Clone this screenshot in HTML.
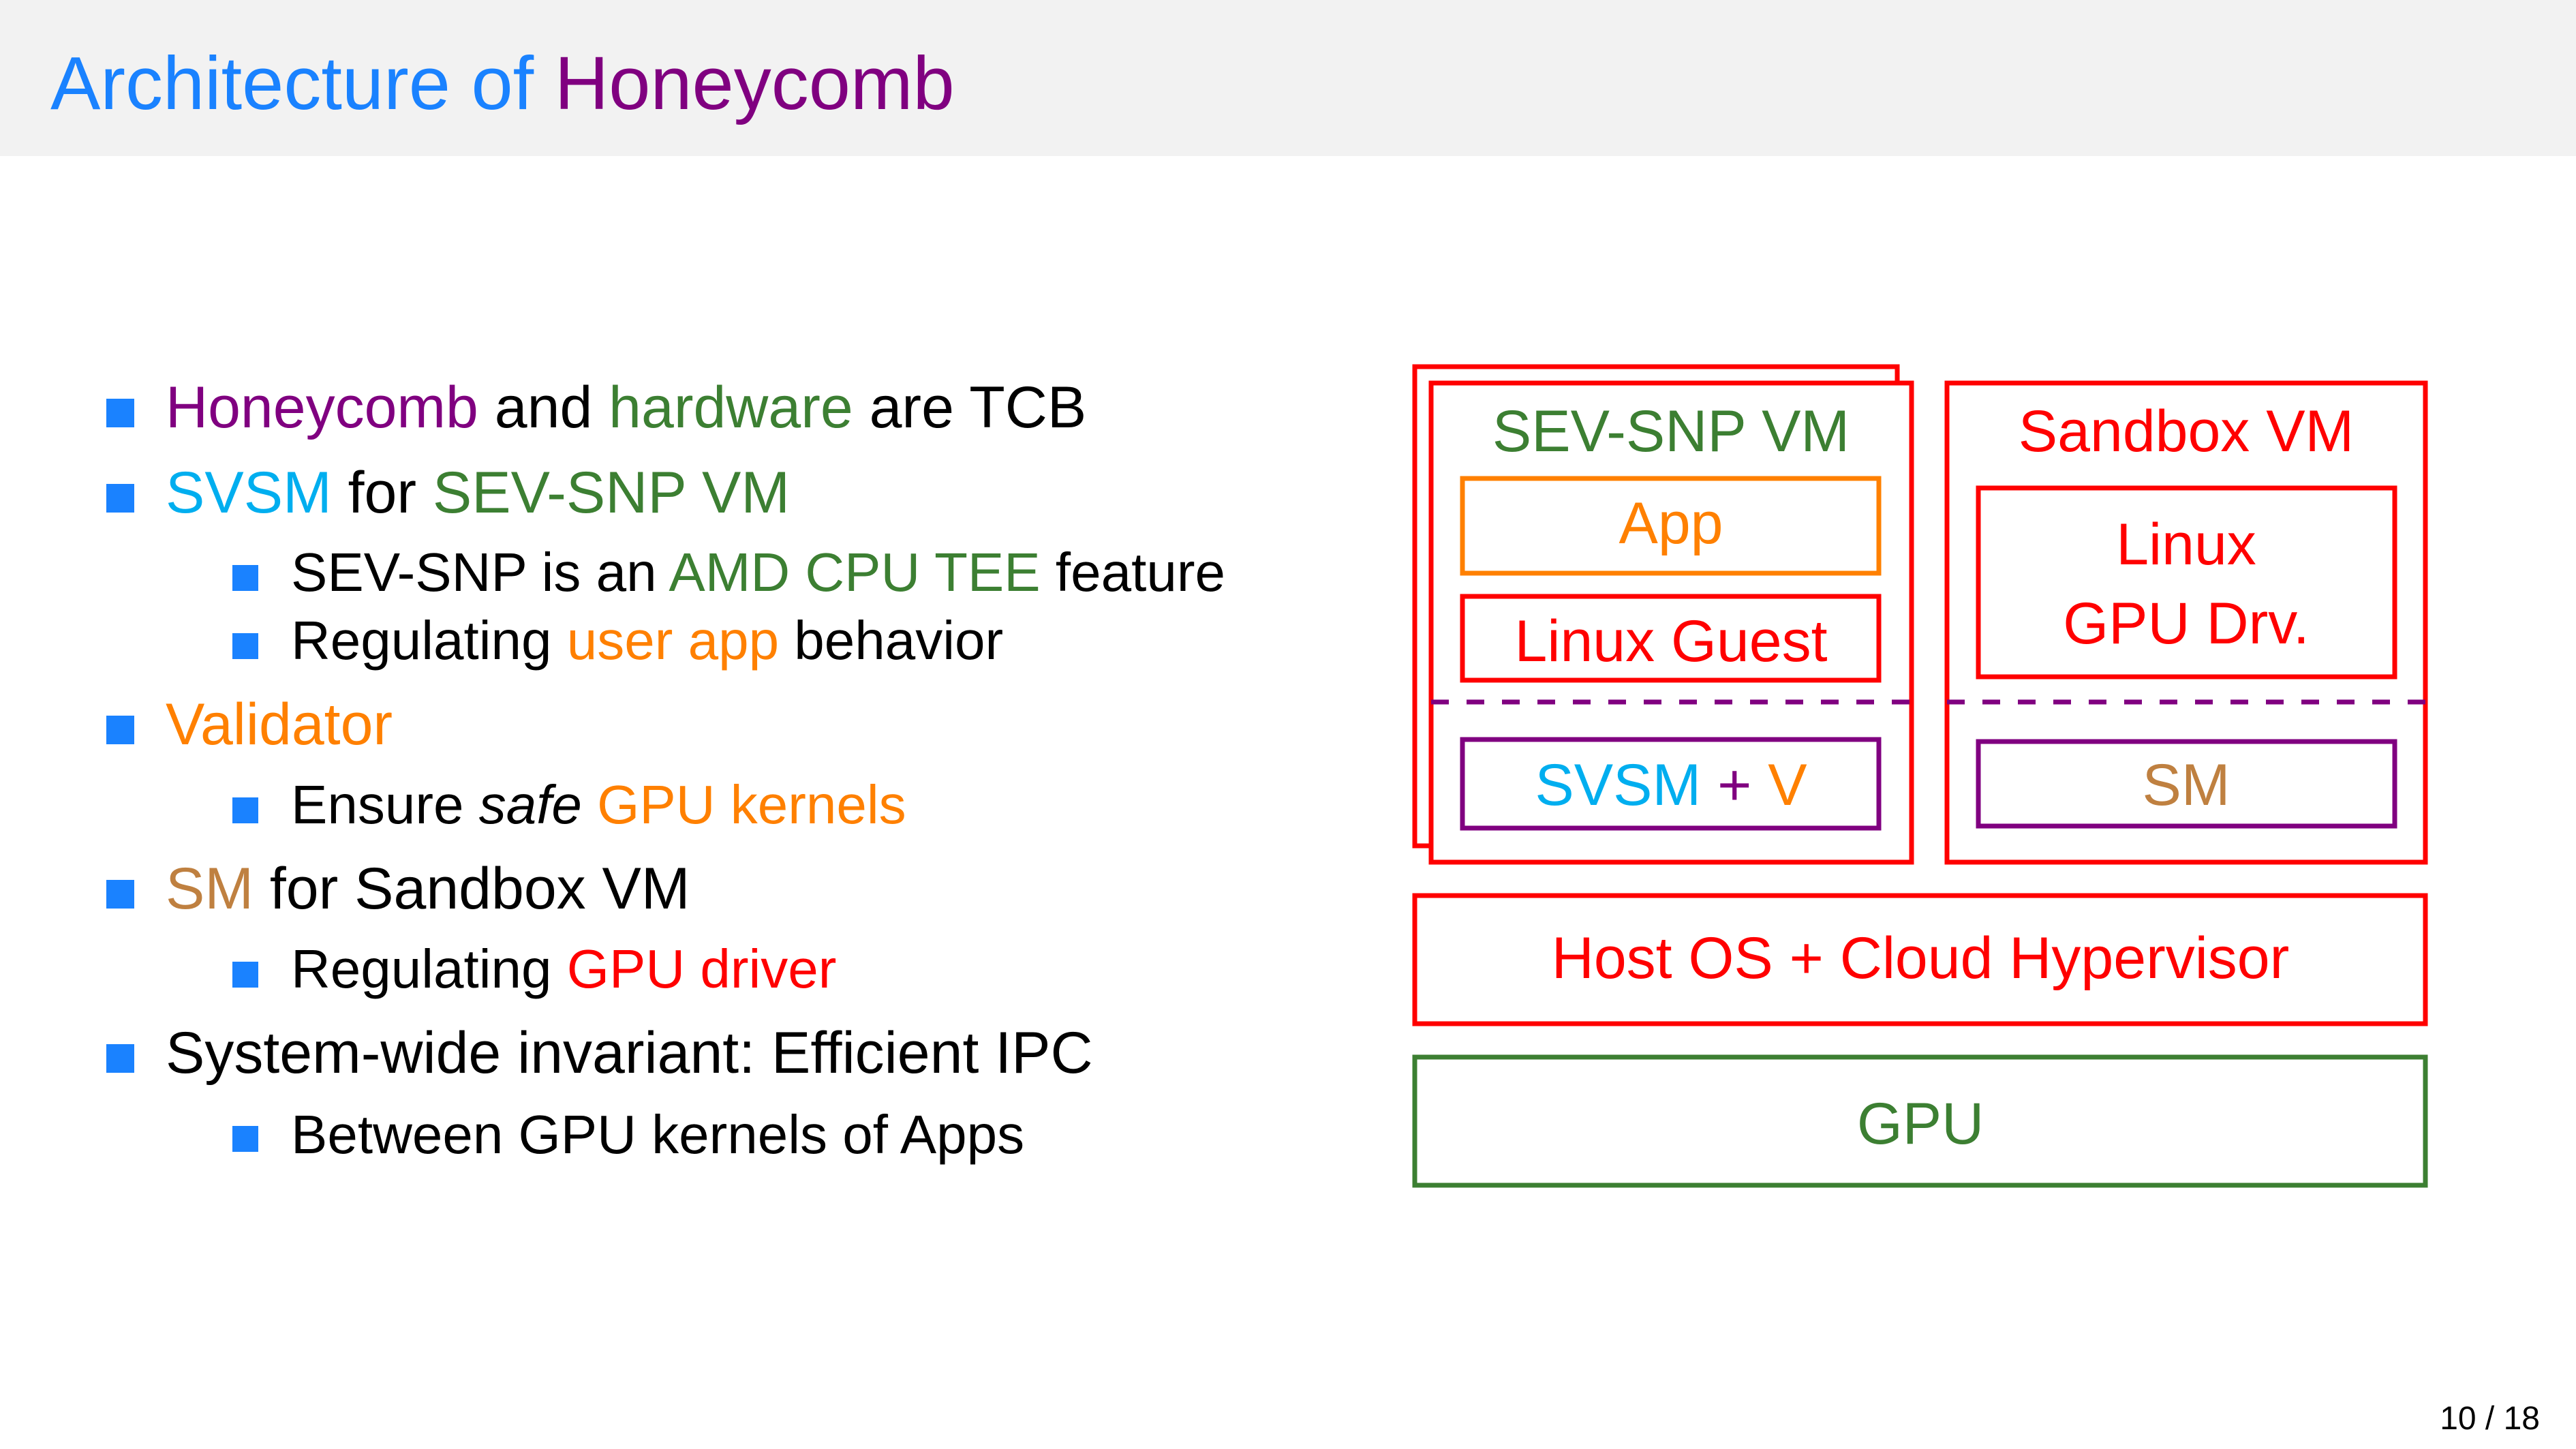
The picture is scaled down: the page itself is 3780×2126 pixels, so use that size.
<!DOCTYPE html>
<html><head><meta charset="utf-8"><style>
html,body{margin:0;padding:0;background:#fff;}
svg{display:block;}
text{font-family:"Liberation Sans",sans-serif;}
</style></head><body>
<svg width="3780" height="2126" viewBox="0 0 3780 2126" xmlns="http://www.w3.org/2000/svg">
<rect x="0" y="0" width="3780" height="2126" fill="#fff"/>
<rect x="0" y="0" width="3780" height="229" fill="#f2f2f2"/>
<text x="74" y="160" font-size="110" fill="#1a82ff">Architecture of <tspan fill="#800080">Honeycomb</tspan></text>

<g fill="#1a82ff">
<rect x="156" y="585" width="41" height="42"/>
<rect x="156" y="710" width="41" height="42"/>
<rect x="341" y="829" width="38" height="38"/>
<rect x="341" y="929" width="38" height="38"/>
<rect x="156" y="1050" width="41" height="42"/>
<rect x="341" y="1170" width="38" height="38"/>
<rect x="156" y="1291" width="41" height="42"/>
<rect x="341" y="1411" width="38" height="38"/>
<rect x="156" y="1532" width="41" height="42"/>
<rect x="341" y="1652" width="38" height="38"/>
</g>
<g font-size="86" fill="#000">
<text x="243" y="627"><tspan fill="#800080">Honeycomb</tspan> and <tspan fill="#3c7f32">hardware</tspan> are TCB</text>
<text x="243" y="752"><tspan fill="#00aeef">SVSM</tspan> for <tspan fill="#3c7f32">SEV-SNP VM</tspan></text>
<text x="243" y="1092"><tspan fill="#ff8000">Validator</tspan></text>
<text x="243" y="1333"><tspan fill="#bf8040">SM</tspan> for Sandbox VM</text>
<text x="243" y="1574">System-wide invariant:  Efficient IPC</text>
</g>
<g font-size="80" fill="#000">
<text x="427" y="867">SEV-SNP is an <tspan fill="#3c7f32">AMD CPU TEE</tspan> feature</text>
<text x="427" y="967">Regulating <tspan fill="#ff8000">user app</tspan> behavior</text>
<text x="427" y="1208">Ensure <tspan font-style="italic">safe</tspan> <tspan fill="#ff8000">GPU kernels</tspan></text>
<text x="427" y="1449">Regulating <tspan fill="#ff0000">GPU driver</tspan></text>
<text x="427" y="1692">Between GPU kernels of Apps</text>
</g>

<g fill="none" stroke-width="7">
<rect x="2076" y="538" width="708" height="703" stroke="#ff0000" fill="#fff"/>
<rect x="2100" y="562" width="705" height="703" stroke="#ff0000" fill="#fff"/>
<rect x="2857" y="562" width="702" height="703" stroke="#ff0000"/>
<rect x="2146" y="702" width="611" height="139" stroke="#ff8000"/>
<rect x="2146" y="875" width="611" height="123" stroke="#ff0000"/>
<rect x="2146" y="1085" width="611" height="130" stroke="#800080"/>
<rect x="2903" y="716" width="611" height="277" stroke="#ff0000"/>
<rect x="2903" y="1088" width="611" height="124" stroke="#800080"/>
<rect x="2076" y="1314" width="1483" height="188" stroke="#ff0000"/>
<rect x="2076" y="1551" width="1483" height="188" stroke="#3c7f32"/>
<line x1="2100" y1="1030" x2="2805" y2="1030" stroke="#800080" stroke-dasharray="26 26"/>
<line x1="2857" y1="1030" x2="3559" y2="1030" stroke="#800080" stroke-dasharray="26 26"/>
</g>

<g font-size="86" text-anchor="middle">
<text x="2452" y="662" fill="#3c7f32">SEV-SNP VM</text>
<text x="3208" y="662" fill="#ff0000">Sandbox VM</text>
<text x="2452" y="797" fill="#ff8000">App</text>
<text x="2452" y="970" fill="#ff0000">Linux Guest</text>
<text x="2452" y="1181"><tspan fill="#00aeef">SVSM</tspan> <tspan fill="#800080">+</tspan> <tspan fill="#ff8000">V</tspan></text>
<text x="3208" y="1181" fill="#bf8040">SM</text>
<text x="3208" y="828" fill="#ff0000">Linux</text>
<text x="3208" y="944" fill="#ff0000">GPU Drv.</text>
<text x="2818" y="1435" fill="#ff0000">Host OS + Cloud Hypervisor</text>
<text x="2818" y="1678" fill="#3c7f32">GPU</text>
</g>

<text x="3727" y="2097" font-size="48" text-anchor="end" fill="#000">10 / 18</text>
</svg>
</body></html>
